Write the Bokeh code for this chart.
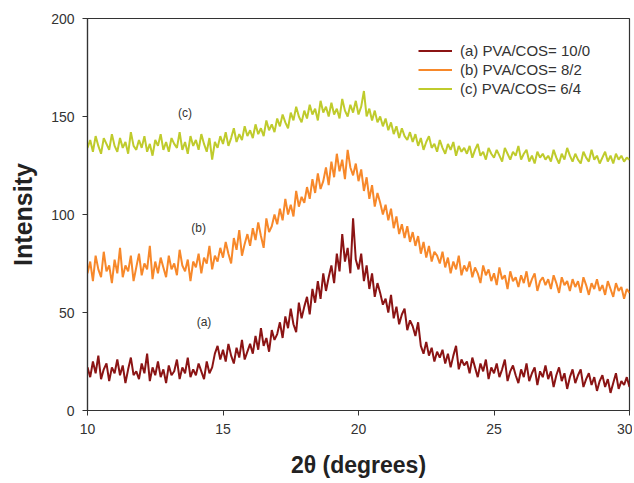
import numpy as np
from bokeh.plotting import figure
from bokeh.models import Range1d, FixedTicker, Legend, LegendItem, Label
from bokeh.embed import file_html
from bokeh.resources import INLINE

# 2-theta sampling grid (degrees), step 0.1 from 10 to 30
two_theta = np.round(np.linspace(10, 30, 201), 1)

# (a) PVA/COS = 10/0
intensity_a = [
    22, 17, 25, 19, 28, 16, 21, 24, 15, 22,
    19, 26, 18, 23, 14, 21, 27, 18, 20, 16,
    24, 19, 29, 15, 22, 18, 25, 17, 21, 14,
    23, 18, 20, 26, 16, 22, 19, 27, 17, 21,
    18, 24, 20, 16, 25, 19, 22, 29, 33, 26,
    31, 25, 34, 28, 24, 32, 27, 36, 26, 30,
    34, 29, 38, 31, 42, 33, 37, 30, 41, 36,
    39, 45, 37, 48, 42, 52, 44, 40, 55, 47,
    53, 58, 49, 62, 55, 66, 57, 70, 61, 68,
    74, 65, 80, 71, 90, 76, 83, 70, 98, 77,
    72, 80, 66, 74, 62, 70, 58, 65, 60, 54,
    57, 50, 59, 47, 53, 44, 49, 52, 41, 46,
    43, 38, 45, 33, 29, 35, 28, 32, 25, 30,
    27, 31, 24, 29, 22, 28, 33, 21, 26, 23,
    25, 19, 27, 22, 17, 24, 20, 26, 16, 22,
    19, 24, 17, 21, 26, 15, 20, 23, 18, 14,
    21, 17, 24, 15, 19, 22, 13, 20, 17, 23,
    16, 20, 12, 18, 22, 15, 19, 11, 17, 21,
    14, 18, 21, 12, 16, 19, 13, 17, 10, 15,
    18, 12, 16, 9, 14, 19, 11, 15, 13, 17,
    12,
]

# (b) PVA/COS = 8/2
intensity_b = [
    70, 76, 66, 79, 72, 68, 81, 71, 74, 65,
    77, 70, 83, 68, 74, 71, 79, 66, 73, 80,
    69, 75, 72, 84, 67, 76, 70, 78, 73, 68,
    79, 72, 75, 69, 82, 74, 71, 77, 66, 76,
    73, 80, 70, 78, 75, 84, 72, 79, 76, 83,
    78, 86, 80, 75, 88, 82, 92, 79, 85, 90,
    84, 93, 87, 96, 89, 83, 98, 91, 94, 100,
    95, 103, 97, 108, 100, 105, 99, 112, 104, 109,
    106, 114, 108, 118, 111, 121, 113, 117, 124, 115,
    127, 119, 131, 122, 128, 118, 133, 124, 120, 126,
    117, 123, 112, 119, 108, 115, 104, 111, 106, 100,
    105, 97, 103, 93, 99, 90, 95, 88, 94, 86,
    91, 84, 89, 80, 86, 78, 84, 76, 81, 79,
    75, 81, 73, 78, 70, 76, 72, 79, 69, 74,
    71, 76, 68, 73, 70, 65, 74, 69, 72, 66,
    70, 64, 73, 67, 69, 62, 71, 66, 68, 63,
    69, 65, 71, 63, 67, 70, 61, 66, 68, 64,
    67, 62, 69, 65, 60, 68, 64, 66, 61, 67,
    63, 66, 60, 68, 64, 59, 65, 62, 67, 61,
    64, 59, 66, 62, 58, 65, 61, 63, 57, 62,
    60,
]

# (c) PVA/COS = 6/4
intensity_c = [
    134, 138, 132, 140, 135, 131, 139, 136, 133, 141,
    135, 132, 139, 134, 137, 131, 142, 135, 133, 138,
    134, 140, 132, 136, 130, 138, 135, 141, 133, 137,
    132, 139, 136, 134, 142, 133, 137, 131, 140, 135,
    138, 133, 141, 136, 132, 139, 128, 137, 134, 140,
    136, 142, 135, 139, 144, 137, 141, 138, 145, 140,
    143, 139, 146, 141, 144, 140, 148, 143, 146, 142,
    149, 145, 151, 147, 144, 152, 148, 155, 150, 147,
    153, 149, 156, 151, 154, 148, 158, 152, 155, 150,
    157, 151, 154, 149, 159, 153, 150, 156, 152, 158,
    151, 155, 163, 150, 154, 148, 153, 147, 150, 145,
    149, 143, 147, 141, 145, 139, 144, 140, 138, 142,
    137, 141, 135, 139, 133, 137, 140, 134, 136, 132,
    138, 134, 131, 136, 133, 137, 130, 135, 132, 134,
    131, 135, 129, 133, 136, 130, 132, 128, 134, 131,
    129, 133, 130, 127, 134, 131, 128, 132, 130, 135,
    128, 131, 133, 127, 130, 126, 132, 129, 131, 128,
    130, 127, 133, 129, 126, 131, 128, 134, 130, 127,
    131, 128, 126, 132, 129, 127, 133, 128, 130, 126,
    129, 132, 127, 130, 126, 131, 128, 130, 127, 129,
    128,
]

series_labels = ["(a) PVA/COS= 10/0", "(b) PVA/COS= 8/2", "(c) PVA/COS= 6/4"]
series_colors = ["#8b1414", "#f7882a", "#bfcb2c"]
x_ticks = [10, 15, 20, 25, 30]
y_ticks = [0, 50, 100, 150, 200]
tags = ["(a)", "(b)", "(c)"]
tag_x = [14.3, 14.1, 13.6]
tag_y = [45, 93, 152]

FONT = "Liberation Sans"

p = figure(width=632, height=480, output_backend="svg", toolbar_location=None,
           x_range=Range1d(10, 30), y_range=Range1d(0, 200),
           min_border_left=87, min_border_right=3, min_border_top=18, min_border_bottom=69)
p.xgrid.visible = False
p.ygrid.visible = False
p.outline_line_color = "#333333"
p.outline_line_width = 1.2

renderers = []
for ys, c in zip([intensity_a, intensity_b, intensity_c], series_colors):
    r = p.line(two_theta, ys, line_color=c, line_width=2)
    renderers.append(r)

for ax in (p.xaxis[0], p.yaxis[0]):
    ax.axis_line_color = "#333333"
    ax.axis_line_width = 1.2
    ax.major_tick_line_color = "#333333"
    ax.major_tick_out = 5
    ax.major_tick_in = 0
    ax.minor_tick_out = 0
    ax.minor_tick_in = 0
    ax.major_label_text_font = FONT
    ax.major_label_text_font_size = "14px"
    ax.major_label_text_color = "#333333"
    ax.axis_label_text_font = FONT
    ax.axis_label_text_font_style = "bold"
    ax.axis_label_text_color = "#222222"

p.xaxis.ticker = FixedTicker(ticks=x_ticks)
p.yaxis.ticker = FixedTicker(ticks=y_ticks)
p.xaxis.axis_label = "2θ (degrees)"
p.yaxis.axis_label = "Intensity"
p.xaxis.axis_label_text_font_size = "23px"
p.yaxis.axis_label_text_font_size = "25px"
p.xaxis.major_label_standoff = 8
p.yaxis.major_label_standoff = 8
p.xaxis.axis_label_standoff = 15
p.yaxis.axis_label_standoff = 11

legend = Legend(items=[LegendItem(label=l, renderers=[r]) for l, r in zip(series_labels, renderers)],
                location=(331, 312), border_line_color=None, background_fill_alpha=0,
                label_text_font=FONT, label_text_font_size="15px", label_text_color="#333333",
                glyph_width=34, label_standoff=8, spacing=0, label_height=19, glyph_height=19,
                padding=0, margin=0)
p.add_layout(legend)

for t, tx, ty in zip(tags, tag_x, tag_y):
    p.add_layout(Label(x=tx, y=ty, text=t, text_font=FONT, text_font_size="12px",
                       text_color="#333333", text_align="center", text_baseline="middle"))

open("out.html", "w").write(file_html(p, INLINE))
